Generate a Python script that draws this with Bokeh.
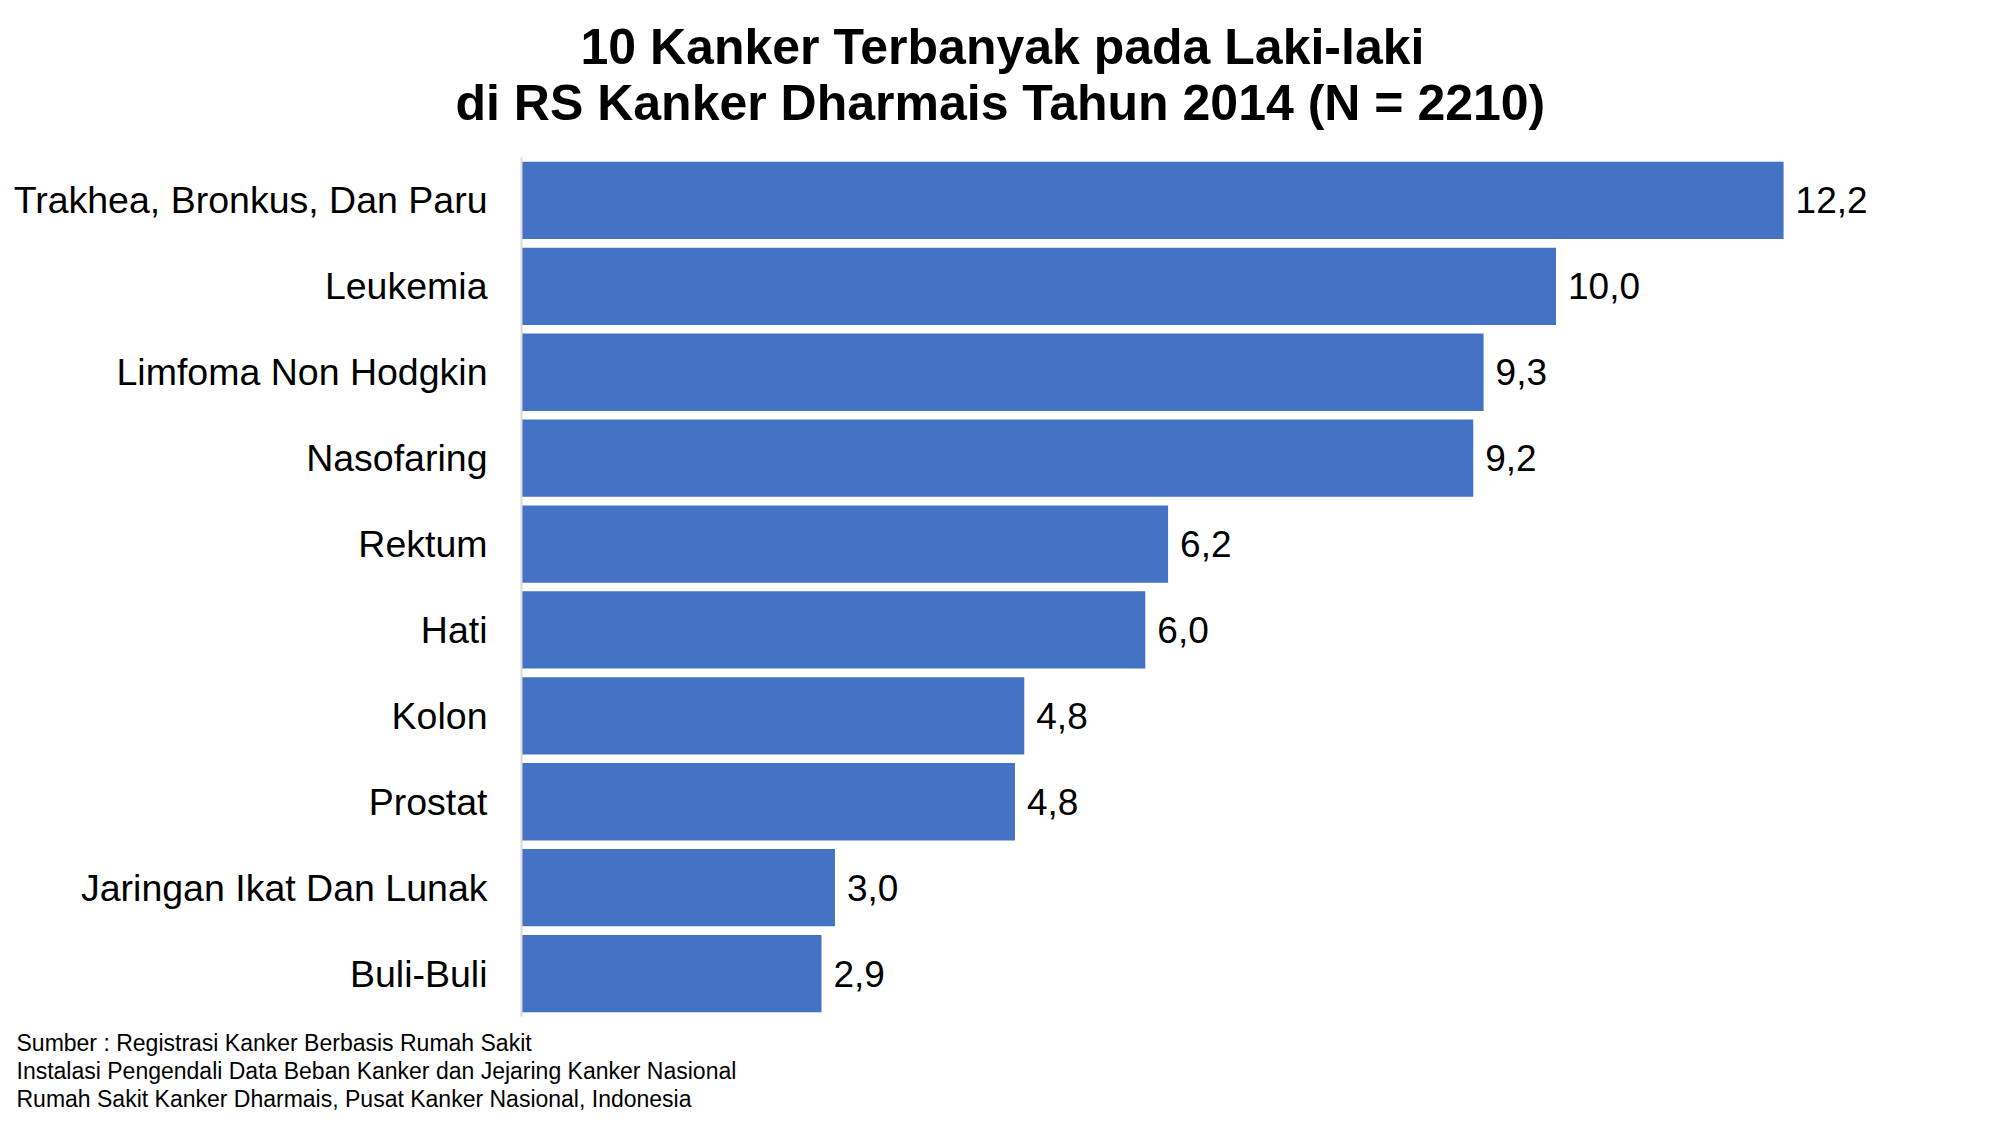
from bokeh.plotting import figure
from bokeh.models import FactorRange, Range1d, Title, ColumnDataSource
from bokeh.embed import file_html
from bokeh.resources import INLINE
from bokeh.core.properties import value

categories = [
    "Trakhea, Bronkus, Dan Paru",
    "Leukemia",
    "Limfoma Non Hodgkin",
    "Nasofaring",
    "Rektum",
    "Hati",
    "Kolon",
    "Prostat",
    "Jaringan Ikat Dan Lunak",
    "Buli-Buli",
]
percent = [12.2, 10.0, 9.3, 9.2, 6.25, 6.03, 4.86, 4.77, 3.03, 2.9]
value_labels = ["12,2", "10,0", "9,3", "9,2", "6,2", "6,0", "4,8", "4,8", "3,0", "2,9"]

title_lines = [
    "10 Kanker Terbanyak pada Laki-laki",
    "di RS Kanker Dharmais Tahun 2014 (N = 2210)",
]
footer_lines = [
    "Sumber : Registrasi Kanker Berbasis Rumah Sakit",
    "Instalasi Pengendali Data Beban Kanker dan Jejaring Kanker Nasional",
    "Rumah Sakit Kanker Dharmais, Pusat Kanker Nasional, Indonesia",
]

FONT = "Liberation Sans"

src = ColumnDataSource(dict(cat=categories, val=percent, lab=value_labels))

p = figure(
    width=1990, height=1111,
    y_range=FactorRange(factors=categories[::-1]),
    x_range=Range1d(0, 14.2),
    x_axis_location=None,
    output_backend="svg",
    toolbar_location=None,
    title=None,
    min_border_left=521, min_border_right=0,
    min_border_top=157, min_border_bottom=94,
)
p.background_fill_color = "white"
p.border_fill_color = "white"
p.outline_line_color = None
p.grid.visible = False

p.hbar(y="cat", left=0, right="val", height=0.9, source=src,
       fill_color="#4472C4", line_color=None)

p.text(x="val", y="cat", text="lab", source=src, x_offset=12,
       text_align="left", text_baseline="middle",
       text_font=value(FONT), text_font_size="37px", text_color="black")

ax = p.yaxis[0]
ax.axis_line_color = "#d9d9d9"
ax.axis_line_width = 2
ax.major_tick_line_color = None
ax.minor_tick_line_color = None
ax.major_tick_out = 0
ax.major_tick_in = 0
ax.major_label_standoff = 34
ax.major_label_text_font = FONT
ax.major_label_text_font_size = "37.5px"
ax.major_label_text_color = "black"

# header (panels added nearest the plot first): spacer, line 2, line 1
p.add_layout(Title(text="\u00a0", align="left", standoff=-31,
                   text_font=FONT, text_font_size="50px", text_font_style="bold"), "above")
p.add_layout(Title(text=title_lines[1], align="left", offset=-66, standoff=0,
                   text_font=FONT, text_font_size="50px", text_font_style="bold",
                   text_color="black"), "above")
p.add_layout(Title(text=title_lines[0], align="left", offset=59, standoff=-4.6,
                   text_font=FONT, text_font_size="50px", text_font_style="bold",
                   text_color="black"), "above")

# footer (nearest the plot first): spacer, then the three source lines
p.add_layout(Title(text="\u00a0", align="left", standoff=-17,
                   text_font=FONT, text_font_size="23px", text_font_style="normal"), "below")
for t in footer_lines:
    p.add_layout(Title(text=t, align="left", offset=-505, standoff=0,
                       text_font=FONT, text_font_size="23px", text_font_style="normal",
                       text_color="black"), "below")

open("out.html", "w").write(file_html(p, INLINE))
